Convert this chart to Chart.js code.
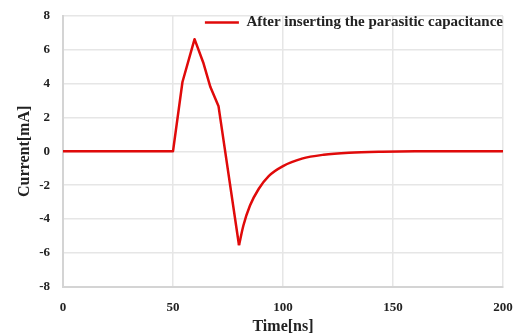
<!DOCTYPE html>
<html>
<head>
<meta charset="utf-8">
<script src="https://cdn.jsdelivr.net/npm/chart.js@4"></script>
<style>
  html, body { margin: 0; padding: 0; background: #ffffff; }
  #wrap { width: 519px; height: 336px; }
</style>
</head>
<body>
<div id="wrap"><canvas id="c" width="519" height="336"></canvas></div>
<script>
// Pulse part (straight segments)
const pulseTime    = [0, 50, 54.3, 59.8, 63.9, 67.0, 70.7, 80];
const pulseCurrent = [0, 0, 4.1, 6.63, 5.19, 3.8, 2.66, -5.55];
// Recovery tail (smooth)
const tailTime    = [80, 82, 85, 89, 93.5, 100, 108.6, 118.5, 130, 145, 160, 200];
const tailCurrent = [-5.55, -4.38, -3.2, -2.21, -1.46, -0.87, -0.43, -0.2, -0.08, -0.02, 0, 0];
const xTicks = [0, 50, 100, 150, 200];
const yTicks = [-8, -6, -4, -2, 0, 2, 4, 6, 8];
const seriesLabel = 'After inserting the parasitic capacitance';
const xTitle = 'Time[ns]';
const yTitle = 'Current[mA]';

const RED = '#e00a0a';
const GRID = '#e6e6e6';
const AXIS = '#d4d4d4';
const FONT = "'Liberation Serif', 'Times New Roman', serif";

const toPts = (xs, ys) => xs.map((x, i) => ({ x: x, y: ys[i] }));

const legendInside = {
  id: 'legendInside',
  beforeInit(chart) {
    const lg = chart.legend;
    if (!lg) return;
    const fit = lg.fit;
    lg.fit = function () { fit.call(this); this.height = 0; };
  },
  afterLayout(chart) {
    const lg = chart.legend;
    if (!lg) return;
    const pad = lg.options.labels.padding;
    const fs = lg.options.labels.font.size;
    lg.left = chart.chartArea.left;
    lg.right = chart.chartArea.right + pad;
    lg.top = 22.5 - pad - fs / 2;
    lg.bottom = lg.top + fs + 2 * pad;
    lg.width = lg.right - lg.left;
    lg.height = lg.bottom - lg.top;
  }
};

new Chart(document.getElementById('c'), {
  type: 'line',
  data: {
    datasets: [
      {
        label: seriesLabel,
        data: toPts(pulseTime, pulseCurrent),
        borderColor: RED,
        backgroundColor: RED,
        borderWidth: 2.5,
        pointRadius: 0,
        tension: 0,
        borderJoinStyle: 'round'
      },
      {
        label: seriesLabel + ' (tail)',
        data: toPts(tailTime, tailCurrent),
        borderColor: RED,
        backgroundColor: RED,
        borderWidth: 2.5,
        pointRadius: 0,
        cubicInterpolationMode: 'monotone',
        borderJoinStyle: 'round'
      }
    ]
  },
  options: {
    responsive: false,
    animation: false,
    layout: { padding: { top: 16, right: 16, left: 0, bottom: 0 } },
    plugins: {
      legend: {
        display: true,
        position: 'top',
        align: 'end',
        labels: {
          filter: (item) => item.datasetIndex === 0,
          usePointStyle: true,
          pointStyle: 'line',
          pointStyleWidth: 34,
          padding: 10,
          color: '#222',
          font: { family: FONT, size: 15, weight: 'bold' }
        }
      },
      tooltip: { enabled: false }
    },
    scales: {
      x: {
        type: 'linear',
        min: 0,
        max: 200,
        afterBuildTicks: (s) => { s.ticks = xTicks.map(v => ({ value: v })); },
        afterFit: (s) => { s.height = 49.3; s.paddingLeft = 4; s.paddingRight = 10; },
        grid: { color: GRID, lineWidth: 1.5, drawTicks: false },
        border: { color: AXIS, width: 2 },
        ticks: {
          padding: 13,
          color: '#222',
          maxRotation: 0,
          font: { family: FONT, size: 13, weight: 'bold' }
        },
        title: {
          display: true,
          text: xTitle,
          color: '#222',
          padding: { top: 0, bottom: 0 },
          font: { family: FONT, size: 16, weight: 'bold', lineHeight: 1.2 }
        }
      },
      y: {
        type: 'linear',
        min: -8,
        max: 8,
        afterBuildTicks: (s) => { s.ticks = yTicks.map(v => ({ value: v })); },
        afterFit: (s) => { s.width = 63; s.paddingTop = 8; s.paddingBottom = 8; },
        grid: { color: GRID, lineWidth: 1.5, drawTicks: false },
        border: { color: AXIS, width: 2 },
        ticks: {
          padding: 13,
          color: '#222',
          font: { family: FONT, size: 13, weight: 'bold' }
        },
        title: {
          display: true,
          text: yTitle,
          color: '#222',
          padding: { top: 15, bottom: 0 },
          font: { family: FONT, size: 16, weight: 'bold', lineHeight: 1.2 }
        }
      }
    }
  },
  plugins: [legendInside]
});
</script>
</body>
</html>
